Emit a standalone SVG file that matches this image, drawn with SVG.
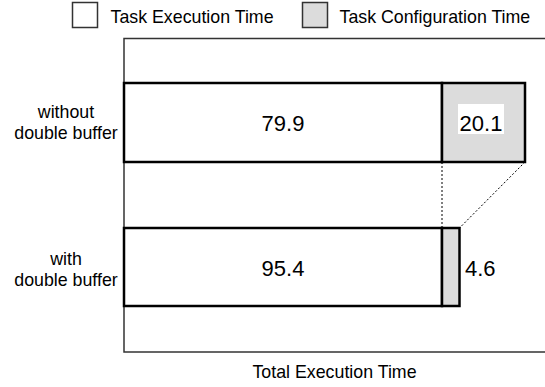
<svg xmlns="http://www.w3.org/2000/svg" width="545" height="387" viewBox="0 0 545 387">
  <style>
    text { font-family: "Liberation Sans", Arial, sans-serif; fill: #000; }
    .lbl { font-size: 17.8px; }
    .val { font-size: 22px; }
    .mid { text-anchor: middle; }
    .key { stroke: #333; stroke-width: 1.5; }
    .bar { stroke: #000; stroke-width: 2.5; }
    .exec { fill: #fff; }
    .conf { fill: #dcdcdc; }
    .axis { fill: none; stroke: #333; stroke-width: 1.5; }
    .guide { fill: none; stroke: #000; stroke-width: 1; stroke-dasharray: 2 2; }
  </style>

  <!-- legend -->
  <g id="legend">
    <rect class="key exec" x="72.5" y="2.5" width="25" height="25"/>
    <text class="lbl" x="110.5" y="22.5">Task Execution Time</text>
    <rect class="key conf" x="302.5" y="2.5" width="25" height="25"/>
    <text class="lbl" x="339.5" y="22.5">Task Configuration Time</text>
  </g>

  <!-- plot frame (open to the right) -->
  <g id="axes">
    <path class="axis" d="M546 38.5 H124 V352 H546"/>
    <text class="lbl mid" x="334.5" y="378">Total Execution Time</text>
  </g>

  <!-- run without double buffering -->
  <g id="bar-without">
    <text class="lbl mid" x="66" y="117.5">without</text>
    <text class="lbl mid" x="66" y="138.5">double buffer</text>
    <rect class="bar exec" x="124" y="83" width="318" height="79"/>
    <rect class="bar conf" x="442" y="83" width="83" height="79"/>
    <text class="val mid" x="283" y="130.5">79.9</text>
    <rect x="458" y="104" width="46" height="30" fill="#fff"/>
    <text class="val mid" x="481" y="130.5">20.1</text>
  </g>

  <!-- run with double buffering -->
  <g id="bar-with">
    <text class="lbl mid" x="66" y="265">with</text>
    <text class="lbl mid" x="66" y="286">double buffer</text>
    <rect class="bar exec" x="124" y="228" width="318" height="78"/>
    <rect class="bar conf" x="442" y="228" width="17.5" height="78"/>
    <text class="val mid" x="283" y="276">95.4</text>
    <text class="val" x="465" y="276">4.6</text>
  </g>

  <!-- projection of the configuration segment -->
  <g id="connectors">
    <line class="guide" x1="442" y1="162" x2="442" y2="228"/>
    <line class="guide" x1="525" y1="162" x2="459.5" y2="228"/>
  </g>
</svg>
